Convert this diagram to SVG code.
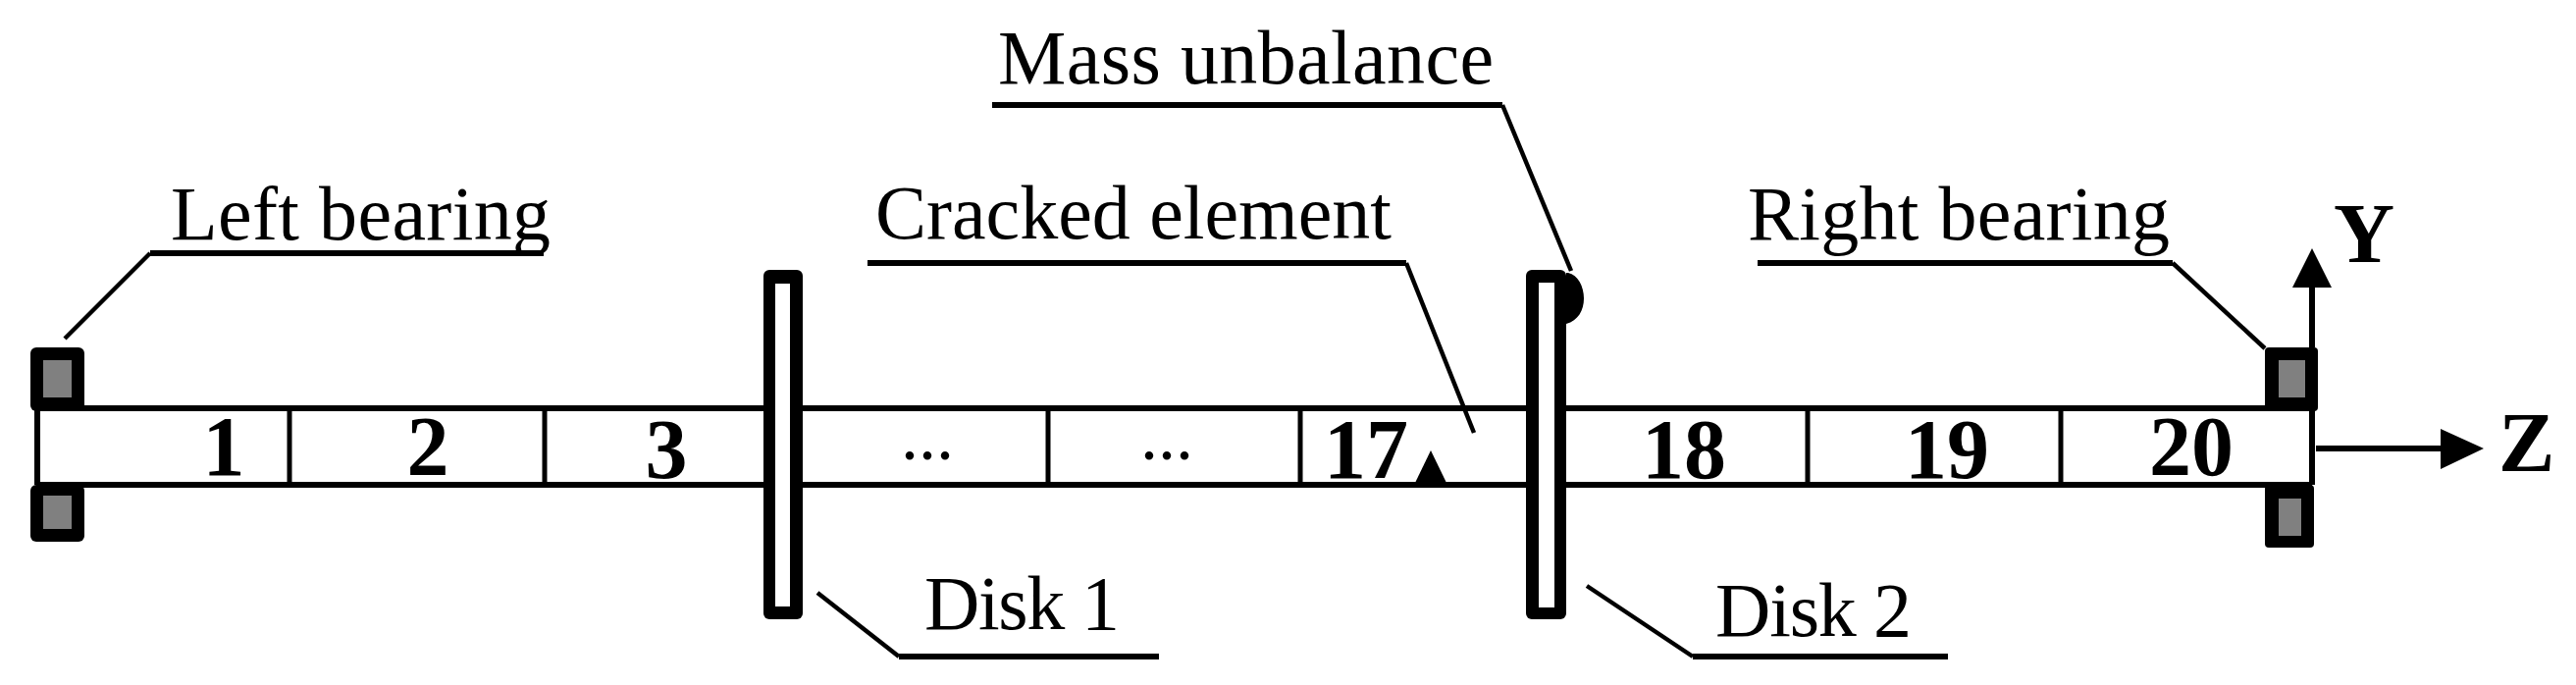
<svg xmlns="http://www.w3.org/2000/svg" width="2625" height="698" viewBox="0 0 2625 698">
<style>
text{font-family:"Liberation Serif","Times New Roman",serif;fill:#000}
.l{font-size:78px}
.n{font-size:86px;font-weight:bold;text-anchor:middle}
.d{font-size:72px;text-anchor:middle}
.a{font-size:86px;font-weight:bold}
.s{fill:none;stroke:#000;stroke-width:6}
.t{fill:none;stroke:#000;stroke-width:4.5}
.v{stroke:#000;stroke-width:5}
.b{fill:#000}
.g{fill:#808080}
.w{fill:#fff}
</style>
<rect width="2625" height="698" fill="#fff"/>
<g id="shaft">
<path class="s" d="M38 416H2356M38 494H2356"/>
<path class="s" d="M38 416V494M2356 416V494"/>
<path class="v" d="M295 416V494M555 416V494M1068 416V494M1325 416V494M1842 416V494M2100 416V497"/>
</g>
<g id="left-bearing">
<rect class="b" x="31" y="354" width="55" height="65" rx="6"/><rect class="g" x="44" y="367" width="29" height="38"/>
<rect class="b" x="31" y="494" width="55" height="58" rx="6"/><rect class="g" x="44" y="505" width="29" height="34"/>
<text class="l" x="174" y="244" textLength="387">Left bearing</text>
</g>
<g id="right-bearing">
<rect class="b" x="2308" y="354" width="54" height="65" rx="4"/><rect class="g" x="2322" y="367" width="27" height="38"/>
<rect class="b" x="2308" y="494" width="50" height="64" rx="4"/><rect class="g" x="2322" y="508" width="23" height="38"/>
<text class="l" x="1781" y="244" textLength="430">Right bearing</text>
</g>
<g id="disk-1">
<rect class="b" x="778" y="275" width="40" height="356" rx="6"/><rect class="w" x="790" y="289" width="15" height="329"/>
<text class="l" x="942" y="641" textLength="199">Disk 1</text>
</g>
<g id="disk-2">
<path class="b" d="M1590 278H1598C1608 280 1614 292 1614 304C1614 316 1608 327 1596 330V278Z"/>
<rect class="b" x="1555" y="275" width="41" height="356" rx="6"/><rect class="w" x="1568" y="288" width="16" height="331"/>
<text class="l" x="1748" y="648" textLength="200">Disk 2</text>
</g>
<g id="mass-unbalance"><text class="l" x="1017" y="85" textLength="505">Mass unbalance</text></g>
<g id="cracked-element">
<path class="b" d="M1458 459L1474 492H1442Z"/>
<text class="l" x="892" y="243" textLength="526">Cracked element</text>
</g>
<g id="elements">
<text class="n" x="228" y="484">1</text>
<text class="n" x="436" y="484">2</text>
<text class="n" x="679" y="487">3</text>
<text class="d" x="945" y="468">...</text>
<text class="d" x="1189" y="468">...</text>
<text class="n" x="1392" y="487">17</text>
<text class="n" x="1716" y="487">18</text>
<text class="n" x="1984" y="487">19</text>
<text class="n" x="2233" y="484">20</text>
</g>
<g id="axes">
<path class="s" d="M2356 354V290M2360 457H2490"/>
<path class="b" d="M2356 253L2376 293H2336ZM2531 457L2487 478V437Z"/>
<text class="a" x="2378" y="267">Y</text>
<text class="a" x="2546" y="480">Z</text>
</g>
<g id="connectors">
<path class="s" d="M554 258H153"/><path class="t" d="M153 258L66 345"/>
<path class="s" d="M1011 107H1531"/><path class="t" d="M1531 107L1601 276"/>
<path class="s" d="M884 268H1433"/><path class="t" d="M1433 268L1502 441"/>
<path class="s" d="M1791 268H2214"/><path class="t" d="M2214 268L2308 355"/>
<path class="t" d="M833 604L916 669"/><path class="s" d="M916 669H1181"/>
<path class="t" d="M1617 597L1725 669"/><path class="s" d="M1725 669H1985"/>
</g>
</svg>
